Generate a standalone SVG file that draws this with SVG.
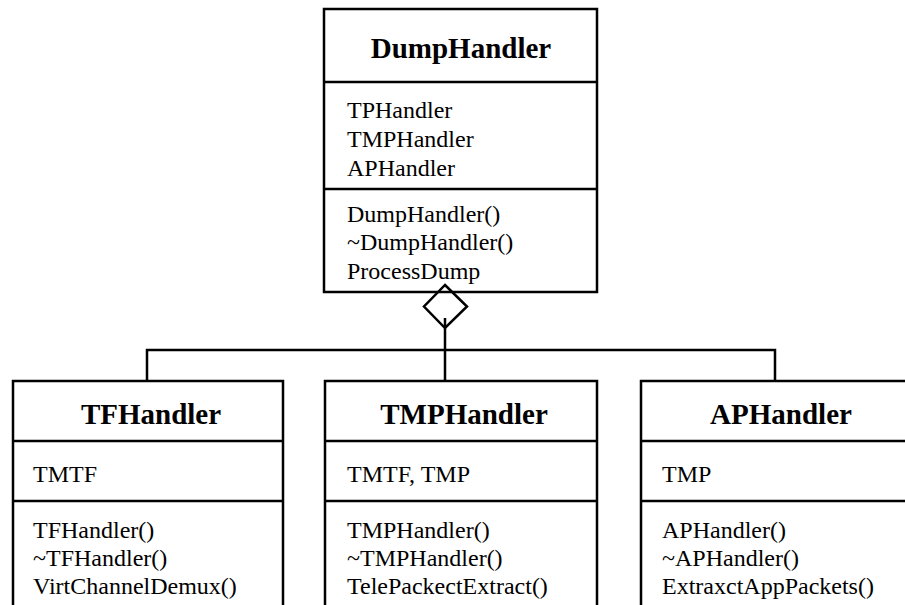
<svg xmlns="http://www.w3.org/2000/svg" width="905" height="605" viewBox="0 0 905 605">
<style>
.box{fill:#fff;stroke:#000;stroke-width:2.5}
.ln{stroke:#000;stroke-width:2.5;fill:none}
.t{font-family:"Liberation Serif","Times New Roman",serif;font-size:24px;fill:#000}
.h{font-family:"Liberation Serif","Times New Roman",serif;font-size:29px;font-weight:bold;fill:#000;text-anchor:middle}
</style>
<rect width="905" height="605" fill="#fff"/>
<g id="DumpHandler">
<rect class="box" x="324" y="9" width="273" height="283"/>
<line class="ln" x1="324" y1="82" x2="597" y2="82"/>
<line class="ln" x1="324" y1="189" x2="597" y2="189"/>
<text class="h" x="461" y="58">DumpHandler</text>
<text class="t" x="347" y="118">TPHandler</text>
<text class="t" x="347" y="147">TMPHandler</text>
<text class="t" x="347" y="176">APHandler</text>
<text class="t" x="347" y="222">DumpHandler()</text>
<text class="t" x="347" y="250">~DumpHandler()</text>
<text class="t" x="347" y="279">ProcessDump</text>
</g>
<g id="TFHandler">
<rect class="box" x="13" y="381" width="270" height="240"/>
<line class="ln" x1="13" y1="441" x2="283" y2="441"/>
<line class="ln" x1="13" y1="501" x2="283" y2="501"/>
<text class="h" x="151" y="424">TFHandler</text>
<text class="t" x="33" y="482">TMTF</text>
<text class="t" x="33" y="538">TFHandler()</text>
<text class="t" x="33" y="566">~TFHandler()</text>
<text class="t" x="33" y="594">VirtChannelDemux()</text>
</g>
<g id="TMPHandler">
<rect class="box" x="325" y="381" width="272" height="240"/>
<line class="ln" x1="325" y1="441" x2="597" y2="441"/>
<line class="ln" x1="325" y1="501" x2="597" y2="501"/>
<text class="h" x="464" y="424">TMPHandler</text>
<text class="t" x="347" y="482">TMTF, TMP</text>
<text class="t" x="347" y="538">TMPHandler()</text>
<text class="t" x="347" y="566">~TMPHandler()</text>
<text class="t" x="347" y="594">TelePackectExtract()</text>
</g>
<g id="APHandler">
<rect class="box" x="641" y="381" width="290" height="240"/>
<line class="ln" x1="641" y1="441" x2="931" y2="441"/>
<line class="ln" x1="641" y1="501" x2="931" y2="501"/>
<text class="h" x="781" y="424">APHandler</text>
<text class="t" x="662" y="482">TMP</text>
<text class="t" x="662" y="538">APHandler()</text>
<text class="t" x="662" y="566">~APHandler()</text>
<text class="t" x="662" y="594">ExtraxctAppPackets()</text>
</g>
<g id="connectors">
<polyline class="ln" points="147,381 147,350 775,350 775,381"/>
<polygon class="ln" fill="#fff" points="445,285 467,306.5 445,328 424,306.5"/>
<line class="ln" x1="445" y1="318" x2="445" y2="381"/>
</g>
</svg>
